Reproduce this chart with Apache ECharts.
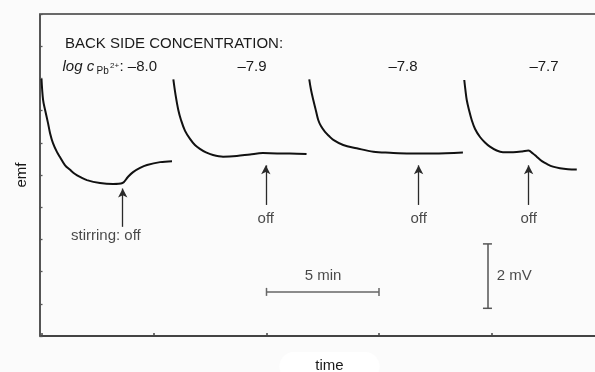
<!DOCTYPE html>
<html>
<head>
<meta charset="utf-8">
<script src="https://cdn.jsdelivr.net/npm/echarts@6/dist/echarts.min.js"></script>
<style>
html,body{margin:0;padding:0;background:#fbfbfb;}
#c{width:595px;height:372px;}
</style>
</head>
<body>
<div id="c"></div>
<script>
// ---- data (time in min, emf in mV relative to axis bottom) ----
var seg1T = [0.00,0.07,0.16,0.29,0.38,0.51,0.69,0.82,1.04,1.27,1.49,1.71,2.02,2.60,3.18,3.60,3.84,4.07,4.38,4.69,5.27,5.80];
var seg1V = [7.98,7.33,7.02,6.61,6.30,5.99,5.71,5.56,5.31,5.16,5.03,4.94,4.84,4.75,4.72,4.75,4.94,5.09,5.22,5.31,5.40,5.43];
var seg2T = [5.86,5.96,6.08,6.20,6.38,6.60,6.82,7.04,7.31,7.62,8.07,8.68,9.27,9.84,10.47,11.04,11.78];
var seg2V = [7.97,7.48,7.02,6.71,6.37,6.12,5.93,5.81,5.70,5.62,5.57,5.59,5.64,5.68,5.67,5.67,5.65];
var seg3T = [11.90,11.98,12.08,12.20,12.30,12.42,12.60,12.78,12.97,13.41,14.01,14.75,15.49,16.38,17.41,18.73];
var seg3V = [7.97,7.64,7.33,6.99,6.71,6.52,6.34,6.21,6.09,5.93,5.83,5.72,5.69,5.67,5.67,5.70];
var seg4T = [18.79,18.84,18.90,19.00,19.12,19.27,19.49,19.71,19.93,20.23,20.51,20.96,21.36,21.64,21.84,22.02,22.24,22.47,22.73,23.04,23.40,23.79];
var seg4V = [7.95,7.64,7.33,7.02,6.71,6.43,6.18,6.01,5.88,5.76,5.71,5.71,5.73,5.76,5.67,5.56,5.43,5.34,5.26,5.21,5.18,5.17];
var concLabels = ['\u20138.0', '\u20137.9', '\u20137.8', '\u20137.7'];
var stirOffTimes = [3.61, 9.97, 16.76, 21.65];
var stirOffLabels = ['stirring: off', 'off', 'off', 'off'];
var timeBar = [10, 15];      // 5 min scale bar
var emfBar = [0.86, 2.86];   // 2 mV scale bar
var xTicks = [0, 5, 10, 15, 20, 25];
var yTicks = [0,1,2,3,4,5,6,7,8,9,10];

function pairs(t, v){ return t.map(function(x,i){ return [x, v[i]]; }); }

var FONT = '"Liberation Sans", Arial, Helvetica, sans-serif';
var TXT = '#1a1a1a';

var chart = echarts.init(document.getElementById('c'), null, {renderer:'canvas'});

var lineStyle = {color:'#111', width:2};
var segs = [pairs(seg1T,seg1V), pairs(seg2T,seg2V), pairs(seg3T,seg3V), pairs(seg4T,seg4V)];

var series = segs.map(function(d){
  return {type:'line', data:d, smooth:0.35, showSymbol:false, symbol:'none',
    lineStyle:lineStyle, silent:true, animation:false, z:3};
});

// arrows and scale bars via markLine
var mlData = [];
stirOffTimes.forEach(function(t, i){
  var tip = i === 0 ? 4.58 : 5.30;
  var bot = i === 0 ? 3.39 : 4.07;
  mlData.push([
    {coord:[t, bot], symbol:'none'},
    {coord:[t, tip], symbol:'arrow', symbolSize:[7,9], lineStyle:{color:'#2a2a2a', width:1.3}}
  ]);
});
mlData.push([
  {coord:[timeBar[0], 1.37], symbol:'rect', symbolSize:[8,1.5]},
  {coord:[timeBar[1], 1.37], symbol:'rect', symbolSize:[8,1.5], lineStyle:{color:'#666', width:1.5}}
]);
mlData.push([
  {coord:[19.82, emfBar[0]], symbol:'rect', symbolSize:[9,1.5]},
  {coord:[19.82, emfBar[1]], symbol:'rect', symbolSize:[9,1.5], lineStyle:{color:'#555', width:1.5}}
]);
mlData.forEach(function(p){ p[0].lineStyle = p[1].lineStyle; });

series.push({
  type:'line', data:[], silent:true, animation:false,
  markLine:{silent:true, animation:false, label:{show:false},
    lineStyle:{type:'solid', color:'#2a2a2a', width:1.3},
    itemStyle:{color:'#2a2a2a'},
    data:mlData}
});

// text labels for arrows and scale bars
var lblData = stirOffLabels.map(function(s, i){
  var t = i === 0 ? 2.86 : stirOffTimes[i];
  var v = i === 0 ? 3.10 : 3.63;
  return {name:s, value:[t, v]};
});
lblData.push({name:'5 min', value:[12.51, 1.86]});
lblData.push({name:'2 mV', value:[20.23, 1.87], label:{align:'left'}});

series.push({
  type:'scatter', data:lblData, symbolSize:0, silent:true, animation:false,
  label:{show:true, position:'inside', formatter:'{b}', color:TXT,
    fontFamily:FONT, fontSize:15, align:'center', verticalAlign:'middle'}
});

var option = {
  backgroundColor:'#fbfbfb',
  animation:false,
  grid:{left:41.5, top:14, width:576, bottom:36, outerBoundsMode:'none', containLabel:false},
  xAxis:[{
    type:'value', min:0, max:25.6, interval:5, position:'bottom',
    axisLine:{show:true, onZero:false, lineStyle:{color:'#444', width:2}},
    axisTick:{show:true, inside:true, length:3, lineStyle:{color:'#444', width:1.5},
      customValues: xTicks},
    axisLabel:{show:false}, splitLine:{show:false},
    name:'time', nameLocation:'middle', nameGap:16,
    nameTextStyle:{fontFamily:FONT, fontSize:15, color:TXT, backgroundColor:'#ffffff',
      padding:[6,36,8,36], borderRadius:20}
  },{
    type:'value', min:0, max:25.6, position:'top',
    axisLine:{show:true, onZero:false, lineStyle:{color:'#3a3a3a', width:1.6}},
    axisTick:{show:false}, axisLabel:{show:false}, splitLine:{show:false}
  }],
  yAxis:{
    type:'value', min:0, max:10, interval:1, offset:2,
    axisLine:{show:true, onZero:false, lineStyle:{color:'#555', width:2}},
    axisTick:{show:true, inside:true, length:3, lineStyle:{color:'#555', width:1.3}},
    axisLabel:{show:false}, splitLine:{show:false},
    name:'emf', nameLocation:'middle', nameGap:10,
    nameTextStyle:{fontFamily:FONT, fontSize:15, color:TXT}
  },
  graphic:[
    {type:'text', left:65, top:36, style:{text:'BACK SIDE CONCENTRATION:', fontFamily:FONT, fontSize:15, fill:TXT}},
    {type:'text', left:62.5, top:59, style:{text:'log c', fontFamily:FONT, fontSize:15, fontStyle:'italic', fill:TXT}},
    {type:'text', left:96.5, top:66, style:{text:'Pb', fontFamily:FONT, fontSize:10, fill:TXT}},
    {type:'text', left:110, top:62, style:{text:'2+', fontFamily:FONT, fontSize:8, fill:TXT}},
    {type:'text', left:119.5, top:59, style:{text:': ' + concLabels[0], fontFamily:FONT, fontSize:15, fill:TXT}},
    {type:'text', x:252, y:67, style:{text:concLabels[1], fontFamily:FONT, fontSize:15, fill:TXT, align:'center', verticalAlign:'middle'}},
    {type:'text', x:403, y:67, style:{text:concLabels[2], fontFamily:FONT, fontSize:15, fill:TXT, align:'center', verticalAlign:'middle'}},
    {type:'text', x:544, y:67, style:{text:concLabels[3], fontFamily:FONT, fontSize:15, fill:TXT, align:'center', verticalAlign:'middle'}}
  ],
  series:series
};
chart.setOption(option);
</script>
</body>
</html>
